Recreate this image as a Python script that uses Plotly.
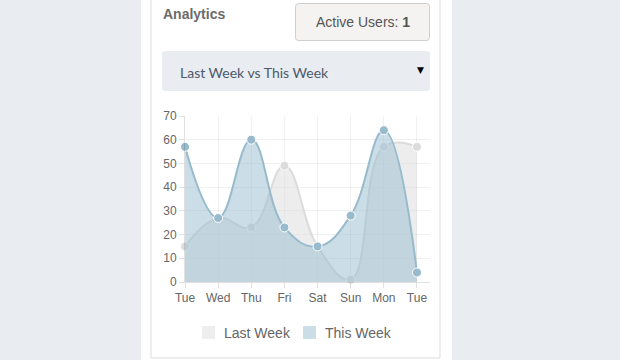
import plotly.graph_objects as go

# ---- data ----
days = ["Tue", "Wed", "Thu", "Fri", "Sat", "Sun", "Mon", "Tue "]
last_week = [15, 27, 23, 49, 15, 1, 57, 57]
this_week = [57, 27, 60, 23, 15, 28, 64, 4]
series_names = ["Last Week", "This Week"]
y_ticks = [0, 10, 20, 30, 40, 50, 60, 70]

W, H = 620, 360
L, R, T, B = 185, 430, 116, 282  # plot area in pixels
PW, PH = R - L, B - T

def px(x):
    return (x - L) / PW

def py(y):
    return (B - y) / PH

def rect(x0, y0, x1, y1, fill, line=None, lw=0):
    return dict(type="rect", xref="paper", yref="paper", x0=px(x0), x1=px(x1),
                y0=py(y1), y1=py(y0), fillcolor=fill,
                line=dict(color=line or "rgba(0,0,0,0)", width=lw), layer="below")

def rrect(x0, y0, x1, y1, r, fill, line=None, lw=0):
    d = (f"M {px(x0+r)},{py(y0)} L {px(x1-r)},{py(y0)} Q {px(x1)},{py(y0)} {px(x1)},{py(y0+r)} "
         f"L {px(x1)},{py(y1-r)} Q {px(x1)},{py(y1)} {px(x1-r)},{py(y1)} "
         f"L {px(x0+r)},{py(y1)} Q {px(x0)},{py(y1)} {px(x0)},{py(y1-r)} "
         f"L {px(x0)},{py(y0+r)} Q {px(x0)},{py(y0)} {px(x0+r)},{py(y0)} Z")
    return dict(type="path", xref="paper", yref="paper", path=d, fillcolor=fill,
                line=dict(color=line or "rgba(0,0,0,0)", width=lw), layer="below")

def text(x, y, s, size, color, family, anchor="left"):
    return dict(xref="paper", yref="paper", x=px(x), y=py(y), text=s, showarrow=False,
                xanchor=anchor, yanchor="middle",
                font=dict(size=size, color=color, family=family))

fig = go.Figure()

gray_line = "rgb(220,220,220)"
gray_fill = "rgba(220,220,220,0.5)"
blue_line = "rgb(151,187,205)"
blue_fill = "rgba(151,187,205,0.5)"

x_idx = list(range(len(days)))
fig.add_trace(go.Scatter(x=x_idx, y=last_week, name=series_names[0], mode="lines+markers",
                         line=dict(color=gray_line, width=2, shape="spline", smoothing=1.2),
                         fill="tozeroy", fillcolor=gray_fill,
                         marker=dict(size=9, color=gray_line, line=dict(color="white", width=1)),
                         cliponaxis=False))
fig.add_trace(go.Scatter(x=x_idx, y=this_week, name=series_names[1], mode="lines+markers",
                         line=dict(color=blue_line, width=2, shape="spline", smoothing=1.2),
                         fill="tozeroy", fillcolor=blue_fill,
                         marker=dict(size=9, color=blue_line, line=dict(color="white", width=1)),
                         cliponaxis=False))

shapes = [
    rect(141, -5, 452, 365, "white"),
    rect(151, -5, 440, 358, "white", "#dddddd", 1),
    rrect(295.5, 3.5, 429.5, 40.5, 3, "#f4f3f1", "#cfcfcf", 1),
    rrect(162, 51, 430, 91, 3, "#e9ecf1"),
    rect(202, 326, 215, 339, "#eeeeee"),
    rect(303, 326, 316, 339, "#cbdde6"),
]

annotations = [
    text(161, 13.5, "<b>Analytics</b>", 14, "#6b6b6b", "Liberation Sans"),
    text(363, 22, "Active Users: <b>1</b>", 14, "#555555", "Liberation Sans", "center"),
    text(178, 72, "Last Week vs This Week", 14, "#4c5a6a", "Lato"),
    text(420, 70, "▼", 9, "#000000", "DejaVu Sans", "center"),
    text(222, 333, series_names[0], 14, "#666666", "Liberation Sans"),
    text(323, 333, series_names[1], 14, "#666666", "Liberation Sans"),
]

fig.update_layout(
    width=W, height=H,
    margin=dict(l=L, r=W - R, t=T, b=H - B, pad=0),
    paper_bgcolor="#e9ecf1",
    plot_bgcolor="rgba(0,0,0,0)",
    showlegend=False,
    shapes=shapes,
    annotations=annotations,
    xaxis=dict(range=[0, 7 + 13 / 33.1], tickmode="array", tickvals=x_idx, ticktext=[d.strip() for d in days],
               showgrid=True, gridcolor="rgba(0,0,0,0.06)", gridwidth=1,
               showline=True, linecolor="rgba(0,0,0,0.12)", linewidth=1,
               ticks="outside", ticklen=5, tickcolor="rgba(0,0,0,0.12)",
               tickfont=dict(family="Liberation Sans", size=12, color="#666666"),
               zeroline=False, fixedrange=True),
    yaxis=dict(range=[0, 70], tickmode="array", tickvals=y_ticks,
               showgrid=True, gridcolor="rgba(0,0,0,0.06)", gridwidth=1,
               showline=True, linecolor="rgba(0,0,0,0.12)", linewidth=1,
               ticks="outside", ticklen=5, tickcolor="rgba(0,0,0,0.12)",
               tickfont=dict(family="Liberation Sans", size=12, color="#666666"),
               zeroline=False, fixedrange=True),
)

fig.write_html("out.html", config={"displayModeBar": False},
               post_script="document.body.style.margin='0';document.body.style.overflow='hidden';")
